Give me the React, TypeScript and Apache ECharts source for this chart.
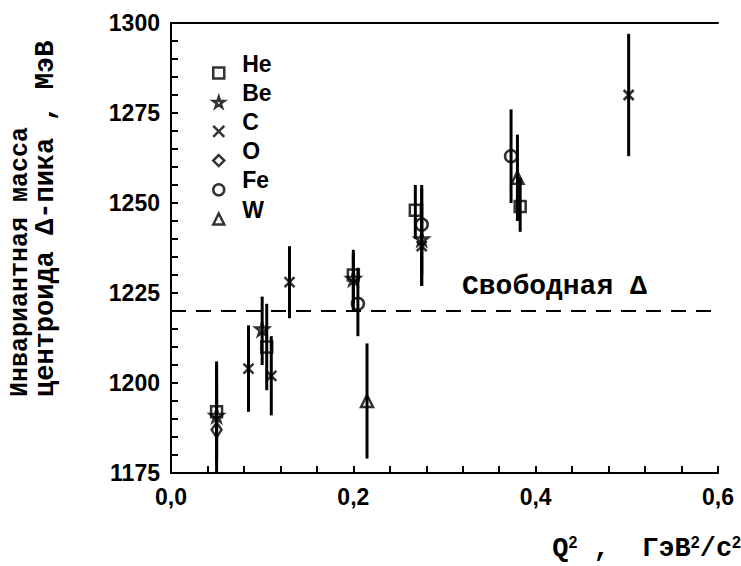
import React, { useEffect, useRef } from "react";
import * as echarts from "echarts";

// Q^2 (GeV^2/c^2), centroid mass (MeV), error-bar low/high (MeV)
const heX = [0.05, 0.105, 0.2, 0.268, 0.383];
const heY = [1192, 1210, 1230, 1248, 1249];
const heLo = [1179, 1198, 1222, 1240, 1242];
const heHi = [1206, 1222, 1237, 1255, 1257];

const beX = [0.05, 0.1, 0.2, 0.275];
const beY = [1191, 1215, 1229, 1240];
const beLo = [1178, 1205, 1220, 1227];
const beHi = [1205, 1224, 1236, 1254];

const cX = [0.085, 0.11, 0.13, 0.275, 0.502];
const cY = [1204, 1202, 1228, 1238, 1280];
const cLo = [1192, 1191, 1218, 1227, 1263];
const cHi = [1216, 1213, 1238, 1250, 1297];

const oX = [0.05];
const oY = [1187];
const oLo = [1175];
const oHi = [1200];

const feX = [0.205, 0.275, 0.373];
const feY = [1222, 1244, 1263];
const feLo = [1213, 1230, 1250];
const feHi = [1232, 1255, 1276];

const wX = [0.215, 0.38];
const wY = [1195, 1257];
const wLo = [1179, 1245];
const wHi = [1211, 1269];

const freeDelta = 1220;
const xTicks = [0, 0.2, 0.4, 0.6];
const yTicks = [1175, 1200, 1225, 1250, 1275, 1300];

const STAR =
  "path://M50,0 L61,35 L98,35 L68,57 L79,91 L50,70 L21,91 L32,57 L2,35 L39,35 Z";
const CROSS = "path://M0,0 L10,10 M10,0 L0,10";

const groups = [
  { name: "He", x: heX, y: heY, lo: heLo, hi: heHi, symbol: "rect", size: 11 },
  { name: "Be", x: beX, y: beY, lo: beLo, hi: beHi, symbol: STAR, size: 13 },
  { name: "C", x: cX, y: cY, lo: cLo, hi: cHi, symbol: CROSS, size: 10 },
  { name: "O", x: oX, y: oY, lo: oLo, hi: oHi, symbol: "diamond", size: [10, 15] },
  { name: "Fe", x: feX, y: feY, lo: feLo, hi: feHi, symbol: "circle", size: 12 },
  { name: "W", x: wX, y: wY, lo: wLo, hi: wHi, symbol: "triangle", size: 12 },
];

const BLACK = "#000";
const MONO = "Liberation Mono";

export default function App() {
  const ref = useRef<HTMLDivElement>(null);
  useEffect(() => {
    if (!ref.current) return;
    const chart = echarts.init(ref.current, undefined, { renderer: "svg" });
    const xMin = xTicks[0];
    const xMax = xTicks[xTicks.length - 1];
    const yMin = yTicks[0];
    const yMax = yTicks[yTicks.length - 1];

    const barData: number[][] = [];
    groups.forEach((g) => g.x.forEach((x, i) => barData.push([x, g.lo[i], g.hi[i]])));

    const series: any[] = [
      {
        type: "custom",
        name: "errors",
        clip: true,
        silent: true,
        data: barData,
        renderItem: (params: any, api: any) => {
          const p1 = api.coord([api.value(0), api.value(1)]);
          const p2 = api.coord([api.value(0), api.value(2)]);
          return {
            type: "line",
            shape: { x1: p1[0], y1: p1[1], x2: p2[0], y2: p2[1] },
            style: { stroke: BLACK, lineWidth: 3 },
          };
        },
        z: 2,
      },
      {
        type: "line",
        name: "free",
        data: [
          [xMin, freeDelta],
          [xMax, freeDelta],
        ],
        symbol: "none",
        lineStyle: { color: BLACK, width: 2, type: [15, 10] },
        silent: true,
        z: 1,
      },
      ...groups.map((g) => ({
        type: "scatter",
        name: g.name,
        data: g.x.map((x, i) => [x, g.y[i]]),
        symbol: g.symbol,
        symbolSize: g.size,
        itemStyle: { color: "rgba(0,0,0,0)", borderColor: BLACK, borderWidth: 2.5 },
        z: 3,
      })),
    ];

    chart.setOption({
      animation: false,
      backgroundColor: "#fff",
      grid: { left: 171, right: 23, top: 23, bottom: 93 },
      legend: {
        orient: "vertical",
        left: 207,
        top: 47,
        itemWidth: 11,
        itemHeight: 11,
        itemGap: -12.8,
        data: groups.map((g) => g.name),
        formatter: (name: string) => name + "\n ",
        itemStyle: { color: "rgba(0,0,0,0)", borderColor: BLACK, borderWidth: 2.5 },
        textStyle: {
          fontFamily: "Liberation Sans",
          fontWeight: "bold",
          fontSize: 23,
          color: BLACK,
          lineHeight: 19,
          padding: [0, 0, 0, 13],
        },
        selectedMode: false,
      },
      xAxis: [
        {
          type: "value",
          min: xMin,
          max: xMax,
          interval: 0.2,
          axisLine: { show: true, onZero: false, lineStyle: { color: BLACK, width: 2 } },
          axisTick: { show: true, inside: true, length: 7, lineStyle: { color: BLACK, width: 2 } },
          minorTick: { show: true, splitNumber: 5, length: 7, lineStyle: { color: BLACK, width: 2 } },
          splitLine: { show: false },
          minorSplitLine: { show: false },
          axisLabel: {
            show: true,
            fontFamily: "Liberation Sans",
            fontWeight: "bold",
            fontSize: 23,
            color: BLACK,
            margin: 12,
            formatter: (v: number) => v.toFixed(1).replace(".", ","),
          },
        },
        {
          type: "value",
          position: "top",
          min: xMin,
          max: xMax,
          axisLine: { show: true, lineStyle: { color: BLACK, width: 2 } },
          axisTick: { show: false },
          axisLabel: { show: false },
          splitLine: { show: false },
        },
      ],
      yAxis: [
        {
          type: "value",
          min: yMin,
          max: yMax,
          interval: 25,
          axisLine: { show: true, onZero: false, lineStyle: { color: BLACK, width: 2 } },
          axisTick: { show: true, inside: true, length: 7, lineStyle: { color: BLACK, width: 2 } },
          minorTick: { show: true, splitNumber: 5, length: 7, lineStyle: { color: BLACK, width: 2 } },
          splitLine: { show: false },
          minorSplitLine: { show: false },
          axisLabel: {
            show: true,
            fontFamily: "Liberation Sans",
            fontWeight: "bold",
            fontSize: 23,
            color: BLACK,
            margin: 11,
            formatter: (v: number) => String(v),
          },
        },
        {
          type: "value",
          position: "right",
          min: yMin,
          max: yMax,
          axisLine: { show: true, lineStyle: { color: BLACK, width: 2 } },
          axisTick: { show: false },
          axisLabel: { show: false },
          splitLine: { show: false },
        },
      ],
      graphic: [
        {
          type: "text",
          x: 20,
          y: 397,
          rotation: Math.PI / 2,
          style: {
            text: "Инвариантная масса",
            fontFamily: MONO,
            fontWeight: "bold",
            fontSize: 25,
            fill: BLACK,
            textAlign: "left",
            textVerticalAlign: "middle",
          },
        },
        {
          type: "text",
          x: 46,
          y: 397,
          rotation: Math.PI / 2,
          style: {
            text: "центроида Δ-пика , МэВ",
            fontFamily: MONO,
            fontWeight: "bold",
            fontSize: 27,
            fill: BLACK,
            textAlign: "left",
            textVerticalAlign: "middle",
          },
        },
        {
          type: "text",
          x: 462,
          y: 286,
          style: {
            text: "Свободная Δ",
            fontFamily: MONO,
            fontWeight: "bold",
            fontSize: 28,
            fill: BLACK,
            textAlign: "left",
            textVerticalAlign: "middle",
          },
        },
        {
          type: "text",
          x: 741,
          y: 549,
          style: {
            text: "Q{s|2} ,  ГэВ{s|2}/c{s|2}",
            fontFamily: MONO,
            fontWeight: "bold",
            fontSize: 27,
            fill: BLACK,
            textAlign: "right",
            textVerticalAlign: "middle",
            rich: {
              s: {
                fontFamily: "Liberation Sans",
                fontWeight: "bold",
                fontSize: 16,
                fill: BLACK,
                verticalAlign: "top",
                lineHeight: 30,
              },
            },
          },
        },
      ],
      series,
    });
    return () => chart.dispose();
  }, []);
  return (
    <div
      ref={ref}
      style={{ position: "absolute", left: 0, top: 0, width: 741, height: 566 }}
    />
  );
}
